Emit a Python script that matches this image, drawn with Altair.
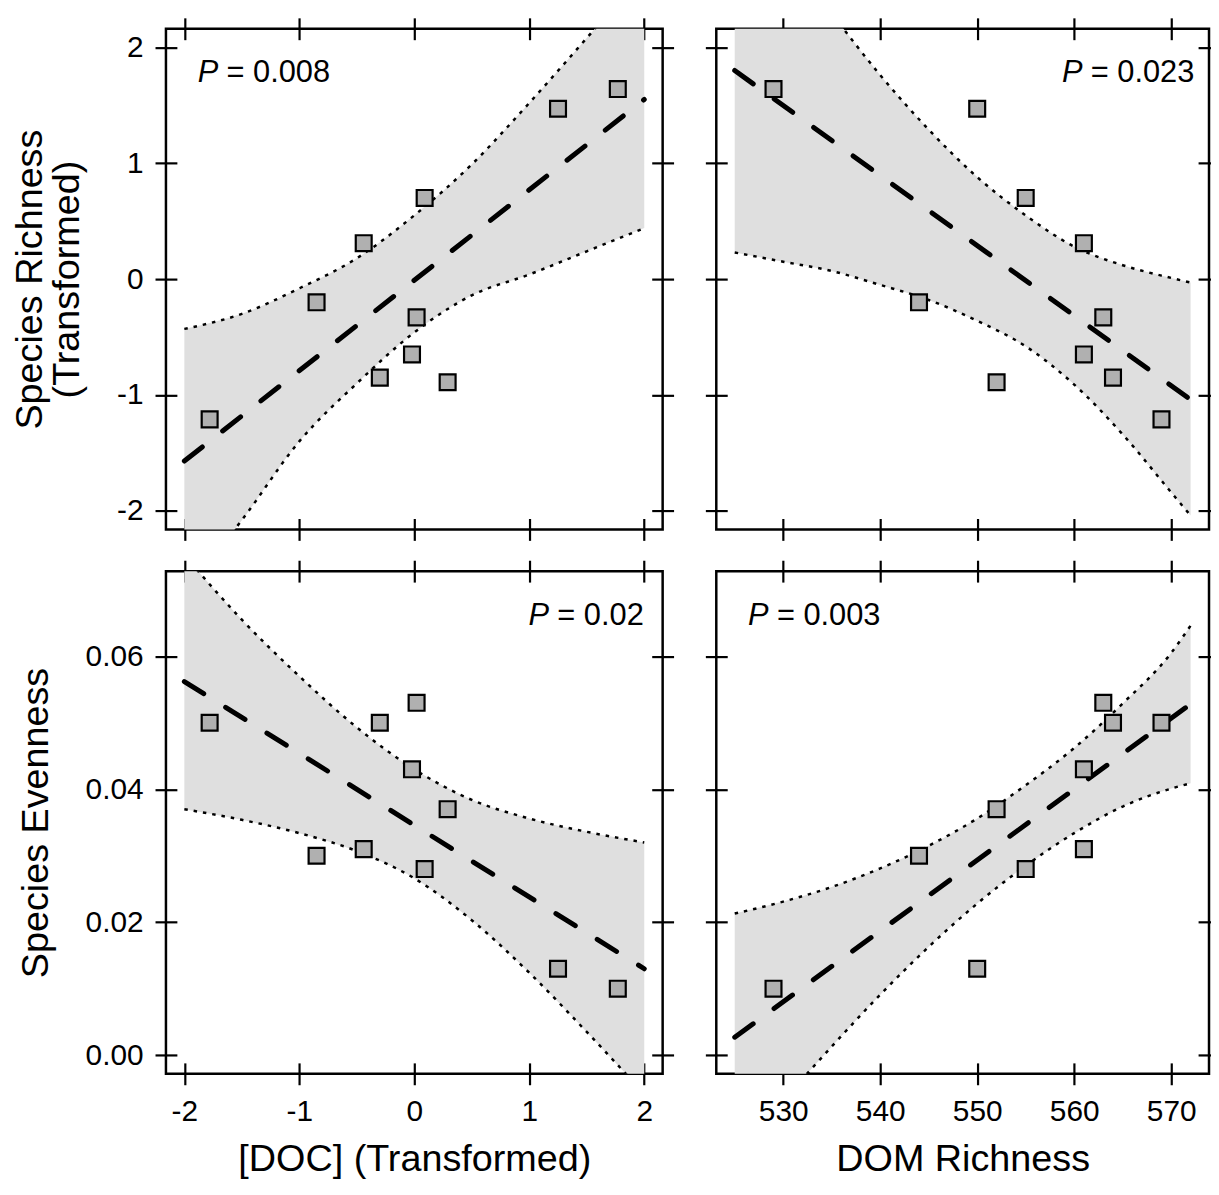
import altair as alt
import pandas as pd

FONT = "Liberation Sans"

# ---------------- observations (10 lakes) ----------------
doc_t = [-1.78, -0.85, -0.44, -0.30, -0.02, 0.02, 0.09, 0.29, 1.25, 1.77]
dom_rich = [569, 544, 561, 564, 561, 563, 555, 552, 550, 529]
sp_rich_t = [-1.21, -0.20, 0.31, -0.85, -0.65, -0.33, 0.70, -0.89, 1.47, 1.64]
sp_even = [0.050, 0.030, 0.031, 0.050, 0.043, 0.053, 0.028, 0.037, 0.013, 0.010]

# ---------------- fitted lines (end points) ----------------
fit_doc_x = [-2, 2]
fit_rich_doc = [-1.57, 1.55]
fit_even_doc = [0.0562, 0.0130]
fit_dom_x = [525, 572]
fit_rich_dom = [1.80, -1.04]
fit_even_dom = [0.0027, 0.0528]

# ---------------- confidence bands ----------------
band_doc_x = [-2, -1.5, -1, -0.5, 0, 0.5, 1, 1.5, 2]
rich_doc_hi = [-0.43, -0.30, -0.08, 0.18, 0.55, 0.99, 1.52, 2.08, 2.65]
rich_doc_lo = [-2.70, -2.08, -1.40, -0.90, -0.46, -0.14, 0.04, 0.24, 0.44]
even_doc_hi = [0.0752, 0.0655, 0.0570, 0.0493, 0.0430, 0.0384, 0.0356, 0.0336, 0.0320]
even_doc_lo = [0.0370, 0.0354, 0.0334, 0.0307, 0.0266, 0.0203, 0.0124, 0.0035, -0.0058]

band_dom_x = [525, 530, 535, 540, 545, 550, 555, 560, 565, 570, 572]
rich_dom_hi = [3.36, 2.82, 2.29, 1.76, 1.29, 0.88, 0.55, 0.28, 0.12, 0.01, -0.03]
rich_dom_lo = [0.23, 0.15, 0.07, -0.05, -0.18, -0.36, -0.58, -0.91, -1.34, -1.84, -2.04]
even_dom_hi = [0.0213, 0.0231, 0.0253, 0.0281, 0.0315, 0.0356, 0.0406, 0.0462, 0.0529, 0.0605, 0.0646]
even_dom_lo = [-0.0160, -0.0069, 0.0013, 0.0091, 0.0163, 0.0228, 0.0285, 0.0334, 0.0374, 0.0401, 0.0409]

# ---------------- annotations / ticks ----------------
p_values = ["0.008", "0.023", "0.02", "0.003"]
x_ticks_doc = [-2, -1, 0, 1, 2]
x_ticks_dom = [530, 540, 550, 560, 570]
y_ticks_rich = [-2, -1, 0, 1, 2]
y_ticks_even = [0.00, 0.02, 0.04, 0.06]

dom_x_domain = [523.1, 573.9]
doc_x_domain = [-2.16, 2.16]
rich_y_domain = [-2.16, 2.16]
even_y_domain = [-0.0028, 0.0728]


def panel(px, py, fx, fy, bx, bhi, blo, xdomain, ydomain, xticks, yticks,
          ylab_expr, p_label, p_left, width, height,
          xtitle, ytitle, ytitle_x):
    pts = pd.DataFrame({"x": px, "y": py})
    fit = pd.DataFrame({"x": fx, "y": fy})
    band = pd.DataFrame({"x": bx, "hi": bhi, "lo": blo})
    edges = pd.DataFrame({"x": list(bx) * 2, "y": list(bhi) + list(blo),
                          "side": ["hi"] * len(bx) + ["lo"] * len(bx)})

    xs = alt.Scale(domain=xdomain, nice=False, zero=False)
    ys = alt.Scale(domain=ydomain, nice=False, zero=False)

    xkw = dict(orient="bottom", values=xticks, offset=-11, tickSize=22)
    if xtitle:
        xax = alt.Axis(labels=True, labelExpr="'' + datum.value", labelPadding=12,
                       title=xtitle, titleBaseline="alphabetic", titleY=108, **xkw)
    else:
        xax = alt.Axis(labels=False, title=None, **xkw)

    ykw = dict(orient="left", values=yticks, offset=-11, tickSize=22)
    if ytitle:
        yax = alt.Axis(labels=True, labelExpr=ylab_expr, labelPadding=12,
                       title=ytitle, titleBaseline="alphabetic", titleX=ytitle_x,
                       titleLineHeight=37, **ykw)
    else:
        yax = alt.Axis(labels=False, title=None, **ykw)

    xtop = alt.Axis(orient="top", values=xticks, offset=-11, tickSize=22,
                    labels=False, title=None)
    yright = alt.Axis(orient="right", values=yticks, offset=-11, tickSize=22,
                      labels=False, title=None)

    band_l = alt.Chart(band).mark_area(color="#dfdfdf", interpolate="monotone", clip=True).encode(
        x=alt.X("x:Q", scale=xs, axis=xax),
        y=alt.Y("lo:Q", scale=ys, axis=yax),
        y2="hi:Q",
    )
    edge_l = alt.Chart(edges).mark_line(color="black", strokeWidth=2.5, strokeDash=[3.5, 6],
                                        interpolate="monotone", clip=True).encode(
        x=alt.X("x:Q", scale=xs, axis=None),
        y=alt.Y("y:Q", scale=ys, axis=None),
        detail="side:N",
    )
    fit_l = alt.Chart(fit).mark_line(color="black", strokeWidth=5, strokeDash=[23, 26],
                                     strokeCap="round", clip=True).encode(
        x=alt.X("x:Q", scale=xs, axis=None),
        y=alt.Y("y:Q", scale=ys, axis=None),
    )
    pts_l = alt.Chart(pts).mark_square(size=256, fill="#b0b0b0", stroke="black",
                                       strokeWidth=2.2, opacity=1).encode(
        x=alt.X("x:Q", scale=xs, axis=xtop),
        y=alt.Y("y:Q", scale=ys, axis=yright),
    )
    p_l = alt.Chart(pd.DataFrame({"t": ["P"]})).mark_text(
        font=FONT, fontSize=31, fontStyle="italic", align="left",
        baseline="alphabetic", color="black").encode(
        x=alt.value(p_left), y=alt.value(54), text="t:N")
    v_l = alt.Chart(pd.DataFrame({"t": ["= " + p_label]})).mark_text(
        font=FONT, fontSize=31, align="left",
        baseline="alphabetic", color="black").encode(
        x=alt.value(p_left + 29), y=alt.value(54), text="t:N")

    return alt.layer(band_l, edge_l, fit_l, pts_l, p_l, v_l).resolve_axis(
        x="independent", y="independent").properties(width=width, height=height)


W_L, W_R, H_T, H_B = 500, 496, 504, 506
rich_lab = "'' + datum.value"
even_lab = "format(datum.value, '.2f')"

tl = panel(doc_t, sp_rich_t, fit_doc_x, fit_rich_doc, band_doc_x, rich_doc_hi, rich_doc_lo,
           doc_x_domain, rich_y_domain, x_ticks_doc, y_ticks_rich, rich_lab,
           p_values[0], 32, W_L, H_T, None, ["Species Richness", "(Transformed)"], -136)
tr = panel(dom_rich, sp_rich_t, fit_dom_x, fit_rich_dom, band_dom_x, rich_dom_hi, rich_dom_lo,
           dom_x_domain, rich_y_domain, x_ticks_dom, y_ticks_rich, rich_lab,
           p_values[1], W_R - 148, W_R, H_T, None, None, 0)
bl = panel(doc_t, sp_even, fit_doc_x, fit_even_doc, band_doc_x, even_doc_hi, even_doc_lo,
           doc_x_domain, even_y_domain, x_ticks_doc, y_ticks_even, even_lab,
           p_values[2], W_L - 135, W_L, H_B, "[DOC] (Transformed)", "Species Evenness", -130)
br = panel(dom_rich, sp_even, fit_dom_x, fit_even_dom, band_dom_x, even_dom_hi, even_dom_lo,
           dom_x_domain, even_y_domain, x_ticks_dom, y_ticks_even, even_lab,
           p_values[3], 32, W_R, H_B, "DOM Richness", None, 0)

# fixed canvas: 1211 x 1175 px, first plot area at (159, 17) inside it
chart = alt.concat(
    tl, tr, bl, br, columns=2, bounds="flush", align="each",
    spacing={"row": 42, "column": 54},
).properties(
    autosize=alt.AutoSizeParams(type="none"),
    padding={"left": 159, "top": 17, "right": 1052, "bottom": 1158},
).configure_view(
    stroke="black", strokeWidth=2.5
).configure_axis(
    domain=False, grid=False, tickColor="black", tickWidth=2.2,
    labelColor="black", titleColor="black", labelFont=FONT, titleFont=FONT,
    labelFontSize=30, titleFontSize=38, titleFontWeight="normal",
    labelFlush=False, labelOverlap=False,
)

chart.save("out.html", embed_options={"renderer": "svg", "actions": False})
